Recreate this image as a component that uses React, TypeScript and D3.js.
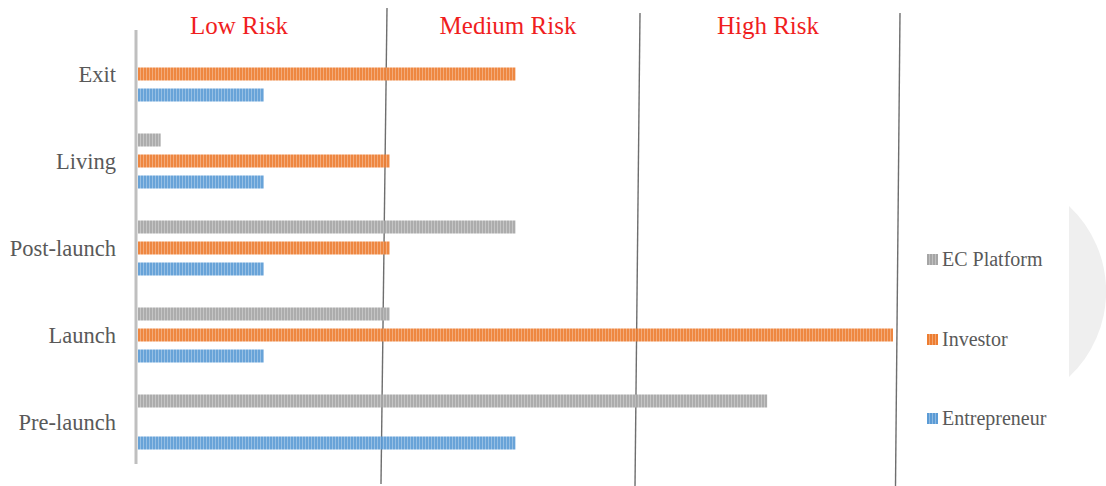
import React from "react";
import * as d3 from "d3";

const categories = ["Exit", "Living", "Post-launch", "Launch", "Pre-launch"];
const seriesNames = ["EC Platform", "Investor", "Entrepreneur"];
const ecPlatform = [0, 0.18, 3, 2, 5];
const investor = [3, 2, 2, 6, 0];
const entrepreneur = [1, 1, 1, 1, 3];
const seriesValues = [ecPlatform, investor, entrepreneur];
const seriesColors = ["#A5A5A5", "#ED7D31", "#5B9BD5"];
const riskLabels = ["Low Risk", "Medium Risk", "High Risk"];

const W = 1106;
const H = 486;
const FONT = "Liberation Serif";

export default function App() {
  const x = d3.scaleLinear().domain([0, 6]).range([138, 893]);
  const yCat = d3.scaleBand<string>().domain(categories).range([30.5, 465.5]).padding(0);
  const yOff = d3.scalePoint<string>().domain(seriesNames).range([-21, 21]);
  const barH = 13;

  const dividers = [
    { x1: 387, y1: 8, x2: 381, y2: 484 },
    { x1: 640, y1: 13, x2: 635, y2: 486 },
    { x1: 900, y1: 13, x2: 895.5, y2: 486 },
  ];
  const riskCenters = [239, 508, 768];
  const legendY = [259, 339, 418];

  return (
    <svg width={W} height={H} style={{ position: "absolute", left: 0, top: 0, background: "#fff" }}>
      <defs>
        {seriesColors.map((c, i) => (
          <pattern key={i} id={`pat${i}`} width={3} height={10} patternUnits="userSpaceOnUse">
            <rect width={3} height={10} fill={c} />
            <rect x={2} width={1} height={10} fill="#fff" opacity={0.3} />
          </pattern>
        ))}
      </defs>

      <path d="M1069,206 A117,117 0 0 1 1069,377 Z" fill="#efefef" />

      {dividers.map((d, i) => (
        <line key={i} x1={d.x1} y1={d.y1} x2={d.x2} y2={d.y2} stroke="#6e6e6e" strokeWidth={1.4} />
      ))}

      {riskLabels.map((t, i) => (
        <text key={t} x={riskCenters[i]} y={34} textAnchor="middle" fill="#f01e1e" style={{ fontFamily: FONT }} fontSize={25}>
          {t}
        </text>
      ))}

      {categories.map((cat, ci) => {
        const cy = (yCat(cat) as number) + yCat.bandwidth() / 2;
        return seriesNames.map((s, si) => {
          const v = seriesValues[si][ci];
          if (!v) return null;
          return (
            <rect
              key={cat + s}
              x={x(0)}
              y={cy + (yOff(s) as number) - barH / 2}
              width={x(v) - x(0)}
              height={barH}
              fill={`url(#pat${si})`}
              opacity={0.92}
            />
          );
        });
      })}

      <line x1={136} y1={30} x2={136} y2={464} stroke="#bfbfbf" strokeWidth={3} />

      {categories.map((cat) => {
        const cy = (yCat(cat) as number) + yCat.bandwidth() / 2;
        return (
          <text key={cat} x={116} y={cy + 8} textAnchor="end" fill="#595959" style={{ fontFamily: FONT }} fontSize={22.5}>
            {cat}
          </text>
        );
      })}

      {seriesNames.map((s, i) => (
        <g key={s}>
          <rect x={927} y={legendY[i] - 5} width={11} height={11} fill={`url(#pat${i})`} />
          <text x={942} y={legendY[i] + 7} fill="#595959" style={{ fontFamily: FONT }} fontSize={20}>
            {s}
          </text>
        </g>
      ))}
    </svg>
  );
}
